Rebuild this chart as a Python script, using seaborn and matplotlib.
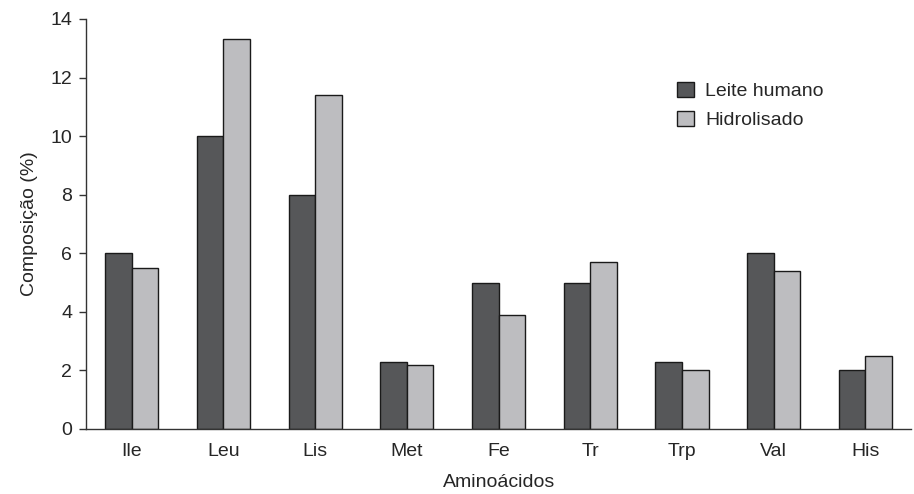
import matplotlib
matplotlib.use('Agg')
import matplotlib.pyplot as plt
import seaborn as sns
import pandas as pd
import numpy as np

aminoacidos = ['Ile', 'Leu', 'Lis', 'Met', 'Fe', 'Tr', 'Trp', 'Val', 'His']
leite_humano = [6.0, 10.0, 8.0, 2.3, 5.0, 5.0, 2.3, 6.0, 2.0]
hidrolisado = [5.5, 13.3, 11.4, 2.2, 3.9, 5.7, 2.0, 5.4, 2.5]
series = ['Leite humano', 'Hidrolisado']

df = pd.DataFrame({
    'Aminoácidos': aminoacidos * 2,
    'Composição': leite_humano + hidrolisado,
    'Série': [series[0]] * len(aminoacidos) + [series[1]] * len(aminoacidos),
})

sns.set_style('white')
plt.rcParams['font.family'] = ['Liberation Sans', 'DejaVu Sans']
fs = 14

fig = plt.figure(figsize=(9.14, 4.94), dpi=100)
ax = fig.add_axes([0.094, 0.1316, 0.903, 0.83])

sns.barplot(data=df, x='Aminoácidos', y='Composição', hue='Série',
            palette=['#555759', '#bcbdc1'], width=0.58, gap=0,
            edgecolor='#1a1a1a', linewidth=1.0, ax=ax)

ax.set_xlim(-0.5, len(aminoacidos) - 0.5)
ax.set_ylim(0, 14)
ax.set_yticks(np.arange(0, 15, 2))
ax.set_xticks(np.arange(-0.5, len(aminoacidos), 1), minor=True)
ax.tick_params(axis='x', which='major', length=0, labelsize=fs, pad=10)
ax.tick_params(axis='x', which='minor', length=5, width=1, color='#333333', direction='out')
ax.tick_params(axis='y', length=5, width=1, color='#333333', direction='out', labelsize=fs, pad=5)
ax.tick_params(left=True, bottom=True)

for s in ['top', 'right']:
    ax.spines[s].set_visible(False)
for s in ['left', 'bottom']:
    ax.spines[s].set_color('#333333')
    ax.spines[s].set_linewidth(1.0)

ax.set_xlabel('Aminoácidos', fontsize=fs, labelpad=10)
ax.set_ylabel('Composição (%)', fontsize=fs, labelpad=9)

leg = ax.legend(loc='upper left', bbox_to_anchor=(0.695, 0.89), frameon=False,
                fontsize=fs, handlelength=0.85, handleheight=0.85,
                handletextpad=0.6, labelspacing=0.55)

plt.savefig('out.png', dpi=100)
